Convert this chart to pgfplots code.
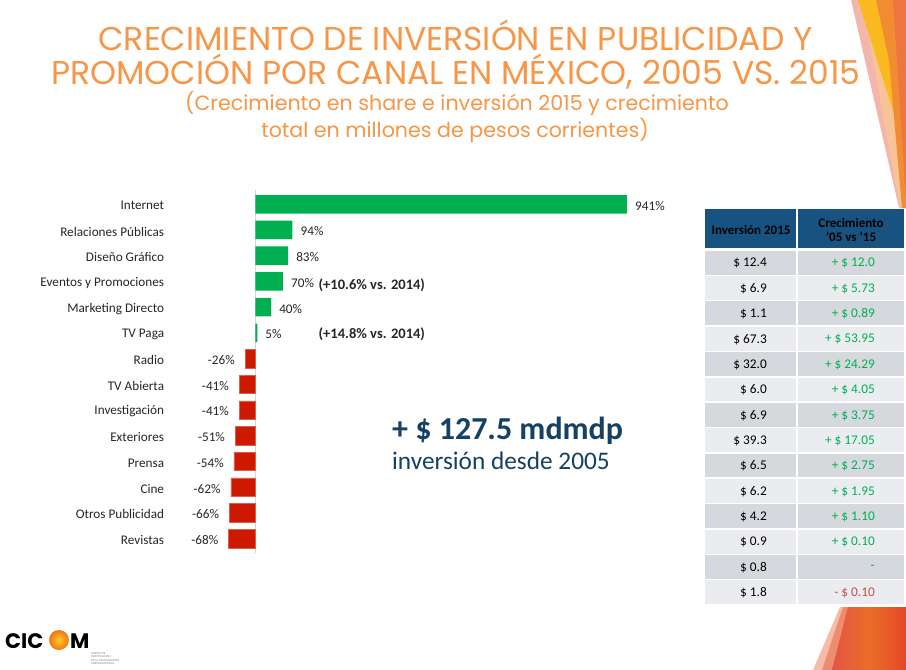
\documentclass[border=0pt]{standalone}
\usepackage{pgfplots}
\pgfplotsset{compat=1.18}
\usepackage{pgfplotstable}
\usepackage{fontspec}
\setmainfont{Carlito}
\newfontfamily\titlefont{Poppins}
\definecolor{ttlorange}{RGB}{247,150,70}
\definecolor{bargreen}{RGB}{0,176,80}
\definecolor{barred}{RGB}{205,25,0}
\definecolor{bigblue}{RGB}{20,65,100}
\definecolor{hdrblue}{RGB}{24,82,128}
\definecolor{rowdark}{RGB}{213,216,221}
\definecolor{rowlight}{RGB}{235,236,239}
\definecolor{tgreen}{RGB}{0,176,80}
\definecolor{tred}{RGB}{192,80,77}
\definecolor{lblgray}{RGB}{38,38,38}

\pgfplotstableread{
idx val
0 941
1 94
2 83
3 70
4 40
5 5
}\posdata
\pgfplotstableread{
idx val
6 -26
7 -41
8 -41
9 -51
10 -54
11 -62
12 -66
13 -68
}\negdata

\begin{document}
\begin{tikzpicture}
\begin{scope}[x=1pt,y=-1pt]
\useasboundingbox (0,0) rectangle (906,670);
\fill[white] (0,0) rectangle (906,670);
% decorations top right
\fill[color={rgb,255:red,243;green,182;blue,170}] (851,0) -- (906,0) -- (906,208) -- (899,208) -- cycle;
\fill[color={rgb,255:red,246;green,196;blue,150}] (862,0) -- (906,0) -- (906,208) -- (900,208) -- cycle;
\fill[color={rgb,255:red,250;green,185;blue,30}] (858,0) -- (884,0) -- (896,120) -- cycle;
\fill[color={rgb,255:red,241;green,140;blue,50}] (876,0) -- (906,0) -- (906,208) -- (902,208) -- (889,60) -- cycle;
\fill[color={rgb,255:red,236;green,118;blue,62}] (893,0) -- (906,0) -- (906,200) -- cycle;
% decorations bottom right
\fill[color={rgb,255:red,246;green,188;blue,165}] (813,670) -- (840,607) -- (906,607) -- (906,670) -- cycle;
\fill[color={rgb,255:red,238;green,140;blue,112}] (822,670) -- (843,607) -- (906,607) -- (906,670) -- cycle;
\shade[left color={rgb,255:red,228;green,85;blue,68}, right color={rgb,255:red,226;green,72;blue,40}, middle color={rgb,255:red,236;green,108;blue,40}] (832,670) -- (848,607) -- (906,607) -- (906,670) -- cycle;
% titles
\node[anchor=base, text=ttlorange, font=\titlefont\fontsize{33}{36}\selectfont, inner sep=0pt] at (455.5,50) {CRECIMIENTO DE INVERSIÓN EN PUBLICIDAD Y};
\node[anchor=base, text=ttlorange, font=\titlefont\fontsize{33}{36}\selectfont, inner sep=0pt] at (456,84) {PROMOCIÓN POR CANAL EN MÉXICO, 2005 VS. 2015};
\node[anchor=base, text=ttlorange, font=\titlefont\fontsize{20.6}{24}\selectfont, inner sep=0pt] at (457,110) {(Crecimiento en share e inversión 2015 y crecimiento};
\node[anchor=base, text=ttlorange, font=\titlefont\fontsize{20.6}{24}\selectfont, inner sep=0pt] at (455,137) {total en millones de pesos corrientes)};
% big text
\node[anchor=base west, text=bigblue, font=\bfseries\fontsize{32}{36}\selectfont, inner sep=0pt] at (392,439) {+ \$ 127.5 mdmdp};
\node[anchor=base west, text=bigblue, font=\fontsize{25.3}{30}\selectfont, inner sep=0pt] at (392,469) {inversión desde 2005};
% table header
\fill[hdrblue] (705,209.3) rectangle (796.3,248.3);
\fill[hdrblue] (797.7,209.3) rectangle (904,248.3);
\node[font=\bfseries\fontsize{13}{15}\selectfont, text=black, inner sep=0pt] at (751,230) {Inversión 2015};
\node[font=\bfseries\fontsize{13}{15}\selectfont, text=black, inner sep=0pt, align=center] at (851,230) {Crecimiento\\[-1pt]’05 vs ’15};
% table rows
\foreach \i/\a/\b/\c/\f in {0/12.4/+ \$ 12.0/tgreen/rowdark, 1/6.9/+ \$ 5.73/tgreen/rowlight, 2/1.1/+ \$ 0.89/tgreen/rowdark, 3/67.3/+ \$ 53.95/tgreen/rowlight, 4/32.0/+ \$ 24.29/tgreen/rowdark, 5/6.0/+ \$ 4.05/tgreen/rowlight, 6/6.9/+ \$ 3.75/tgreen/rowdark, 7/39.3/+ \$ 17.05/tgreen/rowlight, 8/6.5/+ \$ 2.75/tgreen/rowdark, 9/6.2/+ \$ 1.95/tgreen/rowlight, 10/4.2/+ \$ 1.10/tgreen/rowdark, 11/0.9/+ \$ 0.10/tgreen/rowlight, 12/0.8/-/tgreen/rowdark, 13/1.8/- \$ 0.10/tred/rowlight} {
  \pgfmathsetmacro\tp{250.7+\i*25.36}
  \pgfmathsetmacro\bt{\tp+23.9}
  \pgfmathsetmacro\md{\tp+12.6}
  \fill[\f] (705,\tp) rectangle (796.3,\bt);
  \fill[\f] (797.7,\tp) rectangle (904,\bt);
  \node[anchor=east, font=\fontsize{13.3}{15}\selectfont, text=black, inner sep=0pt] at (767,\md) {\$ \a};
  \node[anchor=east, font=\fontsize{13.3}{15}\selectfont, text=\c, inner sep=0pt] at (875,\md) {\b};
}
% logo
\node[anchor=base west, font=\titlefont\bfseries\fontsize{21}{24}\selectfont, inner sep=0pt] at (5,648) {CIC};
\shade[inner color={rgb,255:red,255;green,200;blue,40}, outer color={rgb,255:red,240;green,120;blue,20}] (59,640) circle (10);
\node[anchor=base west, font=\titlefont\bfseries\fontsize{21}{24}\selectfont, inner sep=0pt] at (70,648) {M};
\node[anchor=north west, font=\fontsize{3}{3.6}\selectfont, text=gray, inner sep=0pt, align=left] at (91,652) {CENTRO DE\\INVESTIGACIÓN\\DE LA COMUNICACIÓN\\MERCADOTÉCNICA};
\end{scope}
\begin{axis}[
  at={(196.05pt,-191.4pt)}, anchor=north west,
  scale only axis, width=454.25pt, height=360.1pt,
  xmin=-150, xmax=1000, ymin=-0.5, ymax=13.5, y dir=reverse,
  xbar, bar width=18.5pt, bar shift=0pt,
  axis line style={draw=none}, tick style={draw=none},
  xtick=\empty, ytick={0,...,13},
  yticklabels={Internet, Relaciones Públicas, Diseño Gráfico, Eventos y Promociones, Marketing Directo, TV Paga, Radio, TV Abierta, Investigación, Exteriores, Prensa, Cine, Otros Publicidad, Revistas},
  yticklabel style={font=\fontsize{13.2}{15}\selectfont, inner sep=0pt, xshift=-27.5pt, yshift=-1.5pt, text=lblgray, anchor=east},
  point meta=x,
  nodes near coords={\pgfmathprintnumber{\pgfplotspointmeta}\%},
  /pgf/number format/assume math mode=true,
  clip=false,
]
\draw[color={rgb,255:red,217;green,217;blue,217}, line width=0.8pt] (axis cs:0,-0.55) -- (axis cs:0,13.55);
\addplot[fill=bargreen, draw=none, every node near coord/.append style={inner sep=0pt, anchor=west, xshift=8pt, yshift=-1.5pt, font=\fontsize{13.2}{15}\selectfont, text=lblgray}] table[x=val, y=idx] {\posdata};
\addplot[fill=barred, draw=barred!70!white, line width=0.5pt, every node near coord/.append style={inner sep=0pt, anchor=east, xshift=-10pt, yshift=-1.5pt, font=\fontsize{13.2}{15}\selectfont, text=lblgray}] table[x=val, y=idx] {\negdata};
\node[anchor=west, inner sep=0pt, font=\bfseries\fontsize{14.5}{17}\selectfont, text=lblgray] at (axis cs:160,3.15) {(+10.6\% vs. 2014)};
\node[anchor=west, inner sep=0pt, font=\bfseries\fontsize{14.5}{17}\selectfont, text=lblgray] at (axis cs:160,5.05) {(+14.8\% vs. 2014)};
\end{axis}
\end{tikzpicture}
\end{document}
